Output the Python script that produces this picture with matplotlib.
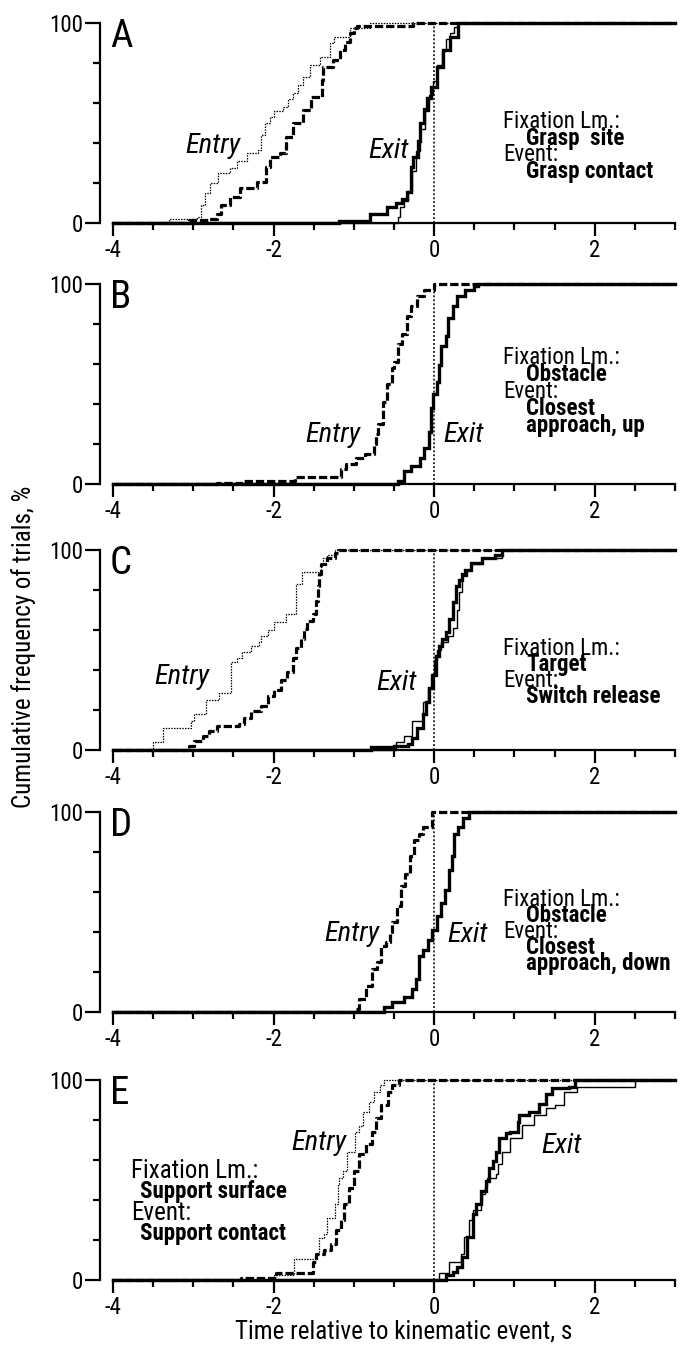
import os
import matplotlib.pyplot as plt
from matplotlib import font_manager
from matplotlib.font_manager import FontProperties
from matplotlib.ticker import MultipleLocator

plt.rcParams['axes.unicode_minus'] = False

# fix the exact Roboto Condensed files, so the same face is used on every run
arquivos = {}
for f in font_manager.fontManager.ttflist:
    base = os.path.splitext(os.path.basename(f.fname))[0].lower().replace('-', '').replace('_', '')
    for chave, alvo in [('normal', 'robotocondensedregular'), ('negrito', 'robotocondensedbold'),
                        ('italico', 'robotocondenseditalic')]:
        if base == alvo:
            arquivos[chave] = f.fname


def fonte(tipo, tamanho):
    if tipo in arquivos:
        return FontProperties(fname=arquivos[tipo], size=tamanho)
    peso = 'bold' if tipo == 'negrito' else 'normal'
    estilo = 'italic' if tipo == 'italico' else 'normal'
    return FontProperties(family=['Roboto Condensed', 'DejaVu Sans'], weight=peso, style=estilo, size=tamanho)


# axis ticks
x_ticks = [-4, -2, 0, 2]
x_rotulos = ['-4', '-2', '0', '2']
y_ticks = [0, 100]
y_rotulos = ['0', '100']

# step curves: time of each step (s) and cumulative % after the step
# A - grasp site / grasp contact
a_en1_t = [-3.3, -2.95, -2.9, -2.85, -2.79, -2.69, -2.54, -2.45, -2.33, -2.2, -2.16, -2.11, -2.05, -2.0,
           -1.88, -1.82, -1.76, -1.7, -1.63, -1.55, -1.42, -1.3, -1.25, -1.05, -0.8]
a_en1_y = [2, 3, 9, 15, 20, 25, 27.5, 31, 35, 36.5, 44, 50, 53, 56, 58, 62, 65, 69, 73, 79, 83, 90, 93, 97.5, 100]
a_en2_t = [-3.05, -2.82, -2.7, -2.65, -2.54, -2.42, -2.21, -2.09, -2.05, -1.92, -1.84, -1.76, -1.63, -1.53,
           -1.4, -1.38, -1.26, -1.17, -1.11, -1.05, -1.0, -0.96, -0.26]
a_en2_y = [1.3, 2, 4.6, 9, 13, 17.5, 20.5, 28, 33, 35, 43, 50, 56.5, 63, 71.5, 78, 81.5, 86.5, 90.5, 95, 97.5, 98.5, 100]
a_ex1_t = [-1.18, -0.8, -0.59, -0.47, -0.4, -0.34, -0.29, -0.26, -0.2, -0.18, -0.125, -0.09, -0.04, 0.03, 0.11, 0.2, 0.3]
a_ex1_y = [1, 4.6, 8, 10, 12, 15.5, 28, 33, 41, 50, 57, 62.5, 68, 78, 86.5, 93, 100]
a_ex2_t = [-0.45, -0.42, -0.37, -0.32, -0.28, -0.22, -0.17, -0.12, -0.07, -0.02, 0.04, 0.1, 0.15, 0.2, 0.25, 0.3]
a_ex2_y = [3, 8, 11, 16, 26, 36, 47, 56, 64, 71, 79, 86, 92, 95, 98, 100]

# B - obstacle / closest approach, up
b_en_t = [-2.7, -2.38, -1.73, -1.16, -1.1, -0.97, -0.86, -0.75, -0.72, -0.7, -0.64, -0.59, -0.53, -0.5,
          -0.45, -0.4, -0.34, -0.29, -0.21, -0.125, 0.0]
b_en_y = [0.5, 1.3, 3.3, 7.4, 10, 13, 15, 20, 25, 30, 41, 50, 58, 61, 70, 75, 84, 89, 94, 97, 100]
b_ex_t = [-0.45, -0.37, -0.29, -0.18, -0.125, -0.07, -0.04, -0.016, 0.04, 0.065, 0.09, 0.15, 0.17, 0.23, 0.28, 0.39, 0.5, 0.55]
b_ex_y = [1.6, 6.6, 9, 13, 18, 26, 38, 45, 51, 59.5, 69, 74, 83, 89, 94, 97, 99, 100]

# C - target / switch release
c_en1_t = [-3.5, -3.38, -3.03, -2.99, -2.84, -2.68, -2.53, -2.45, -2.39, -2.28, -2.18, -2.16, -2.07, -1.99,
           -1.85, -1.72, -1.64, -1.41, -1.39, -1.33, -1.24]
c_en1_y = [3.8, 10.9, 14.5, 17.8, 24.7, 28.5, 44, 45.7, 49, 52, 54, 57, 60, 64, 68, 82.7, 89, 92.6, 96, 97.5, 100]
c_en2_t = [-3.05, -2.99, -2.88, -2.8, -2.7, -2.43, -2.37, -2.28, -2.16, -2.07, -1.99, -1.91, -1.83, -1.76,
           -1.72, -1.66, -1.62, -1.58, -1.51, -1.47, -1.45, -1.43, -1.41, -1.33, -1.24, -1.2]
c_en2_y = [2, 4.6, 7, 9.5, 12, 12.8, 16, 19.4, 21.9, 26.8, 30, 35, 39, 45.7, 50.7, 55.6, 60.5, 64.6, 68,
           74.5, 82, 87.7, 92.6, 96, 98.4, 100]
c_ex1_t = [-0.79, -0.5, -0.33, -0.27, -0.21, -0.145, -0.1, -0.06, -0.02, 0.02, 0.06, 0.1, 0.145, 0.19,
           0.23, 0.27, 0.31, 0.35, 0.39, 0.46, 0.6, 0.76, 0.84]
c_ex1_y = [1.3, 2, 3, 6, 11, 17.8, 24, 31, 37.5, 47, 52, 55.6, 59, 65.5, 73.7, 82, 85, 87.7, 90, 93.4, 96, 97.5, 100]
c_ex2_t = [-0.48, -0.37, -0.27, -0.145, -0.08, -0.04, 0.0, 0.04, 0.08, 0.17, 0.23, 0.29, 0.31, 0.35, 0.41, 0.46, 0.6, 0.84]
c_ex2_y = [3.8, 7, 14.5, 24, 31, 38, 45, 50, 54, 57, 61, 70, 78.6, 86.8, 90, 93, 96, 100]

# D - obstacle / closest approach, down
d_en_t = [-0.98, -0.93, -0.85, -0.77, -0.71, -0.66, -0.6, -0.55, -0.52, -0.46, -0.41, -0.36, -0.3, -0.25, -0.19, -0.14, -0.03]
d_en_y = [1.6, 6.6, 13, 21.5, 25, 33, 35, 40, 45, 53, 63, 69, 78, 86, 89, 92.5, 100]
d_ex_t = [-0.63, -0.52, -0.38, -0.27, -0.22, -0.19, -0.14, -0.08, -0.03, 0.03, 0.08, 0.14, 0.19, 0.22, 0.25, 0.3, 0.36, 0.44]
d_ex_y = [2.5, 5, 7.4, 11.6, 16.5, 28, 31, 36, 41, 48, 54.5, 61, 71, 78, 89, 92.5, 97, 100]

# E - support surface / support contact
e_en1_t = [-2.0, -1.75, -1.47, -1.43, -1.37, -1.33, -1.24, -1.2, -1.18, -1.14, -1.08, -0.98, -0.93, -0.89, -0.81, -0.75, -0.68, -0.62]
e_en1_y = [2.5, 10.7, 13, 21, 23, 31, 38, 48, 51, 54.5, 64, 74, 77, 84, 89, 94, 97.4, 100]
e_en2_t = [-2.4, -1.97, -1.51, -1.47, -1.37, -1.29, -1.22, -1.16, -1.12, -1.06, -1.0, -0.93, -0.85, -0.77,
           -0.73, -0.66, -0.58, -0.52, -0.44]
e_en2_y = [1, 3.3, 9, 13, 15, 18, 25, 30, 38, 46, 54.5, 63, 68, 74, 81, 87.5, 94, 97.4, 100]
e_ex1_t = [0.145, 0.23, 0.29, 0.35, 0.41, 0.48, 0.52, 0.58, 0.64, 0.68, 0.73, 0.77, 0.81, 0.89, 0.95,
           1.04, 1.06, 1.18, 1.31, 1.39, 1.47, 1.68, 1.76]
e_ex1_y = [2.5, 4, 6.6, 11.5, 21.5, 33, 38, 44.5, 49.5, 56, 59.4, 64, 71, 73.4, 74, 79, 82.5, 84, 88, 93, 95.7, 96.5, 100]
e_ex2_t = [0.06, 0.19, 0.33, 0.37, 0.44, 0.48, 0.58, 0.6, 0.63, 0.66, 0.77, 0.79, 0.85, 0.95, 1.1, 1.24,
           1.39, 1.51, 1.62, 1.78, 2.5]
e_ex2_y = [3.3, 9, 13, 21.5, 30, 34.7, 39.6, 43, 47, 51, 53, 58, 64, 71, 77.6, 82.5, 86, 87.5, 94, 96.5, 100]

letras = ['A', 'B', 'C', 'D', 'E']
notas = [['Fixation Lm.:', 'Grasp  site', 'Event:', 'Grasp contact'],
         ['Fixation Lm.:', 'Obstacle', 'Event:', 'Closest', 'approach, up'],
         ['Fixation Lm.:', 'Target', 'Event:', 'Switch release'],
         ['Fixation Lm.:', 'Obstacle', 'Event:', 'Closest', 'approach, down'],
         ['Fixation Lm.:', 'Support surface', 'Event:', 'Support contact']]
negrito = [[0, 1, 0, 1], [0, 1, 0, 1, 1], [0, 1, 0, 1], [0, 1, 0, 1, 1], [0, 1, 0, 1]]

fig = plt.figure(figsize=(6.89, 13.45), dpi=100)

# panel bottoms (figure fraction)
bases = [0.8342, 0.6401, 0.4424, 0.2476, 0.0483]

estilos = {
    'fino_pont': dict(color='black', lw=0.9, ls=(0, (1.2, 1.0))),
    'grosso_trac': dict(color='black', lw=2.3, ls=(0, (2.6, 0.9))),
    'fino': dict(color='black', lw=1.0, ls='-'),
    'grosso': dict(color='black', lw=2.4, ls='-'),
}


def degrau(ax, t, y, estilo):
    xs = [-4] + t + [3]
    ys = [0] + y + [y[-1]]
    ax.step(xs, ys, where='post', clip_on=False, solid_joinstyle='miter', **estilos[estilo])


def painel(i, curvas, entry_pos, exit_pos, nota_x, nota_y, nota_dy, fs_normal, fs_negrito, recuo):
    ax = fig.add_axes([0.164, bases[i], 0.8157, 0.149])
    ax.set_xlim(-4, 3)
    ax.set_ylim(0, 100)
    for t, y, estilo in curvas:
        degrau(ax, t, y, estilo)
    ax.plot([0, 0], [0, 100], color='black', lw=1.1, ls=(0, (1.3, 1.3)))

    for s in ['top', 'right']:
        ax.spines[s].set_visible(False)
    ax.spines['left'].set_position(('outward', 9.4))
    ax.spines['left'].set_bounds(0, 100)
    ax.spines['bottom'].set_bounds(-4, 3)
    ax.spines['left'].set_linewidth(1.6)
    ax.spines['bottom'].set_linewidth(1.6)

    ax.set_xticks(x_ticks, labels=x_rotulos, fontproperties=fonte('normal', 16.5))
    ax.xaxis.set_minor_locator(MultipleLocator(0.5))
    ax.set_yticks(y_ticks, labels=y_rotulos, fontproperties=fonte('normal', 16.5))
    ax.set_yticks([20, 40, 60, 80], minor=True)
    ax.tick_params(axis='x', which='major', length=9.4, width=1.6, pad=2)
    ax.tick_params(axis='x', which='minor', length=5, width=1.6)
    ax.tick_params(axis='y', which='major', length=10.8, width=1.6, pad=1.5)
    ax.tick_params(axis='y', which='minor', length=5, width=1.6)

    ax.text(-4.04, 88, letras[i], fontproperties=fonte('normal', 28), ha='left', va='baseline')
    ax.text(entry_pos[0], entry_pos[1], 'Entry', fontproperties=fonte('italico', 20.5), va='baseline')
    ax.text(exit_pos[0], exit_pos[1], 'Exit', fontproperties=fonte('italico', 20.5), va='baseline')

    for k, linha in enumerate(notas[i]):
        if negrito[i][k]:
            ax.text(nota_x + recuo, nota_y - k * nota_dy, linha, fontproperties=fonte('negrito', fs_negrito),
                    va='center')
        else:
            ax.text(nota_x, nota_y - k * nota_dy, linha, fontproperties=fonte('normal', fs_normal), va='center')
    return ax


painel(0, [(a_en1_t, a_en1_y, 'fino_pont'), (a_en2_t, a_en2_y, 'grosso_trac'),
           (a_ex2_t, a_ex2_y, 'fino'), (a_ex1_t, a_ex1_y, 'grosso')],
       (-3.1, 35), (-0.82, 32.5), 0.855, 50.6, 8.3, 16.5, 16.5, 0.29)
painel(1, [(b_en_t, b_en_y, 'grosso_trac'), (b_ex_t, b_ex_y, 'grosso')],
       (-1.61, 21), (0.11, 21), 0.855, 63, 8.4, 16.5, 16.5, 0.29)
painel(2, [(c_en1_t, c_en1_y, 'fino_pont'), (c_en2_t, c_en2_y, 'grosso_trac'),
           (c_ex2_t, c_ex2_y, 'fino'), (c_ex1_t, c_ex1_y, 'grosso')],
       (-3.48, 33), (-0.72, 29.7), 0.855, 50.5, 7.9, 16.5, 16.5, 0.29)
painel(3, [(d_en_t, d_en_y, 'grosso_trac'), (d_ex_t, d_ex_y, 'grosso')],
       (-1.37, 35.6), (0.16, 34.7), 0.855, 56, 7.9, 16.5, 16.5, 0.29)
painel(4, [(e_en1_t, e_en1_y, 'fino_pont'), (e_en2_t, e_en2_y, 'grosso_trac'),
           (e_ex2_t, e_ex2_y, 'fino'), (e_ex1_t, e_ex1_y, 'grosso')],
       (-1.78, 65), (1.34, 63.5), -3.78, 54.5, 10.5, 18, 16.5, 0.12)

fig.text(0.586, 1 - 1332 / 1345, 'Time relative to kinematic event, s', fontproperties=fonte('normal', 18),
         ha='center', va='center')
fig.text(0.034, 1 - 647 / 1345, 'Cumulative frequency of trials, %', fontproperties=fonte('normal', 18),
         rotation=90, ha='center', va='center')

plt.savefig('out.png', dpi=100)
